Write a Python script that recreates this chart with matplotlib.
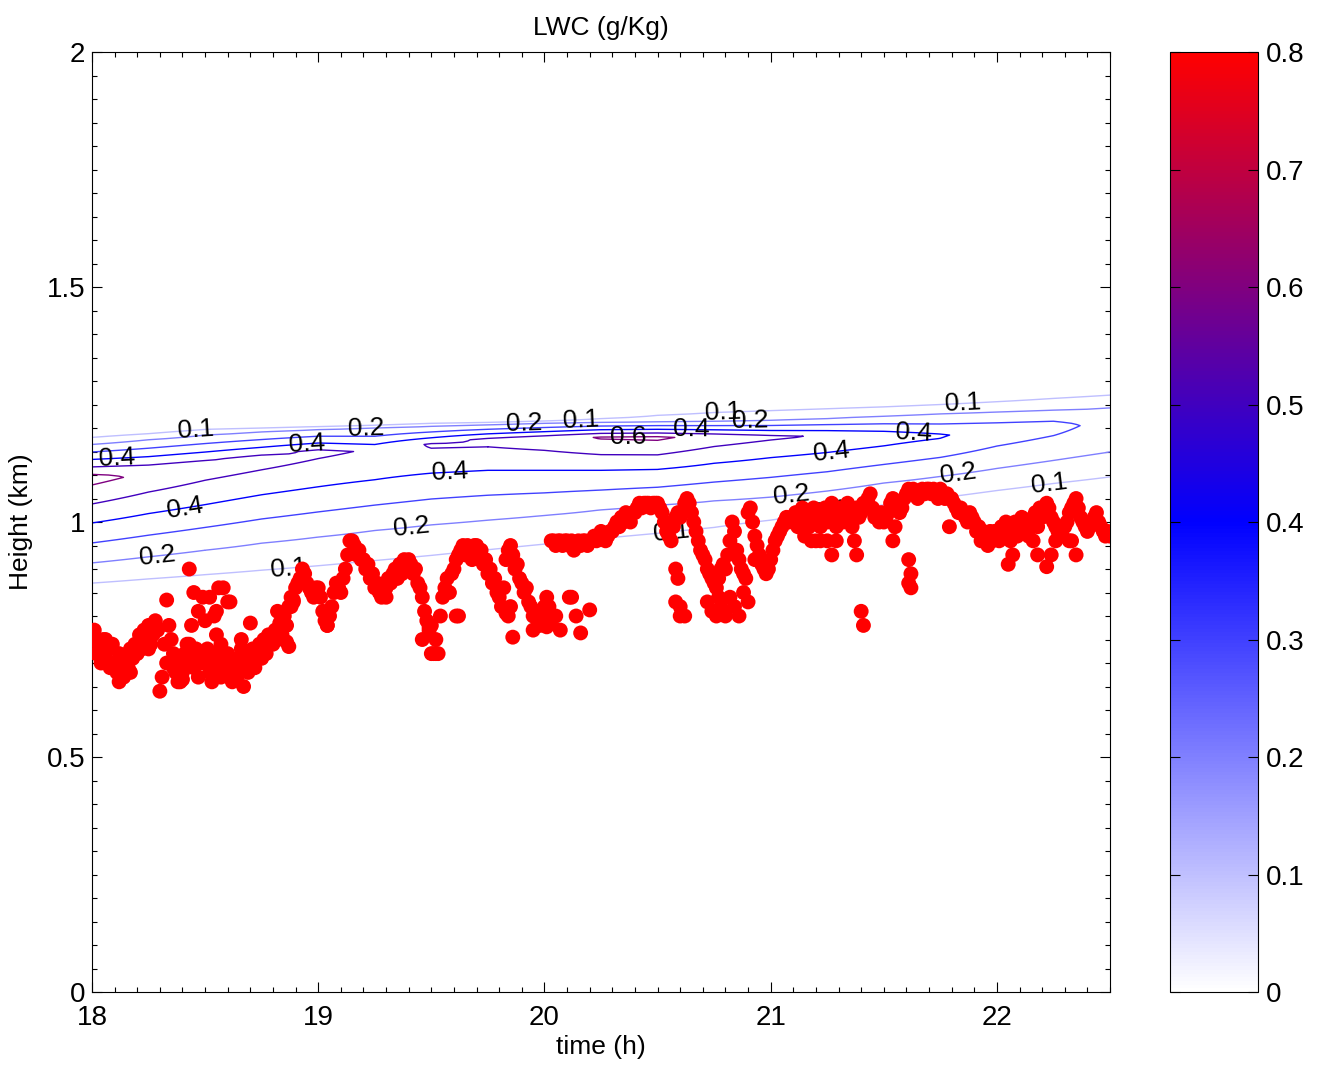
import numpy as np
import matplotlib
matplotlib.use("Agg")
import matplotlib.pyplot as plt
from matplotlib.colors import LinearSegmentedColormap, Normalize
from matplotlib.cm import ScalarMappable
from matplotlib.ticker import MultipleLocator

plt.rcParams['font.family'] = ['Liberation Sans', 'DejaVu Sans']

# ---------------------------------------------------------------
# LWC vertical profiles (g/kg), one per time column (h)
# knots: cloud base (0), rising 0.2 and 0.4, peak, falling 0.2, top (0)
# ---------------------------------------------------------------
prof_time = [18.0, 18.25, 18.5, 18.75, 19.0, 19.25, 19.5, 19.75, 20.0, 20.25,
             20.5, 20.75, 21.0, 21.25, 21.5, 21.75, 22.0, 22.25, 22.5]
base_h   = [0.827, 0.832, 0.836, 0.840, 0.846, 0.854, 0.864, 0.878, 0.892, 0.904,
            0.916, 0.932, 0.955, 0.975, 0.990, 1.005, 1.020, 1.033, 1.043]
rise02_h = [0.913, 0.926, 0.940, 0.955, 0.968, 0.982, 0.994, 1.004, 1.014, 1.026,
            1.036, 1.045, 1.053, 1.066, 1.083, 1.097, 1.114, 1.131, 1.149]
rise04_h = [0.998, 1.018, 1.037, 1.058, 1.075, 1.090, 1.104, 1.110, 1.110, 1.110,
            1.112, 1.125, 1.137, 1.148, 1.162, 1.178, np.nan, np.nan, np.nan]
peak_h   = [1.095, 1.105, 1.120, 1.135, 1.150, 1.150, 1.165, 1.175, 1.178, 1.180,
            1.180, 1.182, 1.182, 1.183, 1.185, 1.185, 1.195, 1.205, 1.210]
peak_lwc = [0.64, 0.59, 0.56, 0.545, 0.525, 0.485, 0.515, 0.53, 0.56, 0.61,
            0.62, 0.56, 0.52, 0.49, 0.45, 0.41, 0.37, 0.34, 0.26]
fall02_h = [1.165, 1.175, 1.185, 1.192, 1.197, 1.200, 1.204, 1.207, 1.210, 1.212,
            1.213, 1.214, 1.216, 1.220, 1.225, 1.230, 1.234, 1.238, 1.243]
top_h    = [1.195, 1.201, 1.209, 1.208, 1.209, 1.212, 1.216, 1.217, 1.220, 1.228,
            1.241, 1.252, 1.258, 1.262, 1.265, 1.270, 1.278, 1.288, 1.297]

# ---------------------------------------------------------------
# Cloud base from the ceilometer (km), main trace every 0.01 h
# ---------------------------------------------------------------
cb_start, cb_step = 18.0, 0.01
cb_main = [
    0.75, 0.77, 0.72, 0.74, 0.70, 0.75, 0.71, 0.73, 0.69, 0.74,   # 18.0
    0.70, 0.68, 0.66, 0.70, 0.67, 0.71, 0.69, 0.73, 0.71, 0.74,   # 18.1
    0.72, 0.76, 0.73, 0.77, 0.75, 0.78, 0.74, 0.76, 0.79, 0.77,   # 18.2
    0.64, 0.67, 0.74, 0.70, 0.78, 0.75, 0.72, 0.68, 0.70, 0.66,   # 18.3
    0.68, 0.72, 0.70, 0.74, 0.71, 0.69, 0.73, 0.67, 0.70, 0.72,   # 18.4
    0.70, 0.73, 0.68, 0.71, 0.67, 0.72, 0.69, 0.74, 0.68, 0.70,   # 18.5
    0.72, 0.68, 0.66, 0.70, 0.67, 0.71, 0.73, 0.69, 0.72, 0.68,   # 18.6
    0.70, 0.73, 0.69, 0.72, 0.74, 0.71, 0.75, 0.72, 0.76, 0.74,   # 18.7
    0.74, 0.77, 0.75, 0.78, 0.76, 0.80, 0.78, 0.82, 0.84, 0.83,   # 18.8
    0.86, 0.87, 0.88, 0.90, 0.89, 0.87, 0.86, 0.85, 0.84, 0.86,   # 18.9
    0.86, 0.84, 0.81, 0.79, 0.78, 0.80, 0.82, 0.85, 0.87, 0.86,   # 19.0
    0.85, 0.88, 0.90, 0.93, 0.96, 0.96, 0.95, 0.93, 0.94, 0.92,   # 19.1
    0.92, 0.90, 0.91, 0.88, 0.89, 0.86, 0.87, 0.85, 0.84, 0.86,   # 19.2
    0.86, 0.88, 0.87, 0.89, 0.90, 0.88, 0.91, 0.89, 0.92, 0.90,   # 19.3
    0.92, 0.91, 0.89, 0.90, 0.87, 0.86, 0.84, 0.81, 0.79, 0.77,   # 19.4
    0.72, 0.72, 0.72, 0.72, 0.80, 0.84, 0.86, 0.88, 0.85, 0.89,   # 19.5
    0.90, 0.92, 0.93, 0.94, 0.95, 0.93, 0.95, 0.94, 0.92, 0.95,   # 19.6
    0.95, 0.93, 0.94, 0.91, 0.92, 0.89, 0.90, 0.87, 0.88, 0.85,   # 19.7
    0.84, 0.82, 0.86, 0.92, 0.94, 0.95, 0.93, 0.90, 0.91, 0.88,   # 19.8
    0.87, 0.85, 0.86, 0.83, 0.82, 0.80, 0.81, 0.79, 0.78, 0.80,   # 19.9
    0.82, 0.84, 0.82, 0.96, 0.96, 0.95, 0.96, 0.96, 0.95, 0.96,   # 20.0
    0.96, 0.95, 0.96, 0.94, 0.95, 0.96, 0.95, 0.96, 0.96, 0.95,   # 20.1
    0.96, 0.96, 0.97, 0.96, 0.97, 0.98, 0.97, 0.96, 0.97, 0.98,   # 20.2
    0.98, 0.99, 1.00, 0.99, 1.01, 1.00, 1.02, 1.01, 1.00, 1.02,   # 20.3
    1.02, 1.03, 1.04, 1.03, 1.04, 1.04, 1.04, 1.03, 1.04, 1.04,   # 20.4
    1.04, 1.03, 1.02, 1.00, 0.98, 0.97, 0.96, 0.99, 1.01, 1.02,   # 20.5
    1.01, 1.02, 1.04, 1.05, 1.04, 1.02, 1.00, 0.98, 0.96, 0.94,   # 20.6
    0.93, 0.92, 0.90, 0.89, 0.88, 0.87, 0.86, 0.88, 0.90, 0.91,   # 20.7
    0.90, 0.93, 0.96, 1.00, 0.98, 0.94, 0.92, 0.90, 0.89, 0.88,   # 20.8
    1.02, 1.03, 1.00, 0.97, 0.95, 0.93, 0.91, 0.90, 0.89, 0.90,   # 20.9
    0.92, 0.94, 0.96, 0.97, 0.98, 0.99, 1.00, 1.01, 1.00, 1.01,   # 21.0
    1.00, 1.02, 0.99, 1.01, 1.03, 1.00, 1.02, 0.99, 1.01, 1.03,   # 21.1
    1.00, 1.02, 0.99, 1.01, 1.03, 1.00, 1.02, 1.04, 1.01, 0.99,   # 21.2
    1.01, 1.03, 1.00, 1.02, 1.04, 1.01, 0.99, 1.02, 1.03, 1.01,   # 21.3
    1.02, 1.04, 1.03, 1.05, 1.06, 1.03, 1.01, 1.02, 1.00, 1.02,   # 21.4
    1.00, 1.01, 1.02, 1.04, 1.05, 1.04, 1.03, 1.02, 1.03, 1.05,   # 21.5
    1.06, 1.07, 1.06, 1.07, 1.06, 1.05, 1.06, 1.07, 1.06, 1.07,   # 21.6
    1.07, 1.06, 1.07, 1.06, 1.05, 1.07, 1.06, 1.05, 1.06, 1.05,   # 21.7
    1.05, 1.04, 1.03, 1.02, 1.03, 1.02, 1.01, 1.00, 1.02, 1.01,   # 21.8
    1.00, 0.98, 0.99, 0.96, 0.98, 0.97, 0.95, 0.98, 0.96, 0.98,   # 21.9
    0.98, 0.96, 0.99, 0.97, 1.00, 0.98, 0.96, 0.99, 1.00, 0.97,   # 22.0
    0.99, 1.01, 0.98, 1.00, 0.97, 0.99, 1.01, 1.02, 0.99, 1.03,   # 22.1
    1.01, 1.02, 1.04, 1.03, 1.01, 1.00, 0.99, 0.98, 0.99, 0.97,   # 22.2
    0.99, 1.00, 1.02, 1.03, 1.04, 1.05, 1.03, 1.01, 1.00, 0.99,   # 22.3
    0.98, 0.99, 1.00, 1.01, 1.02, 1.00, 0.99, 0.98, 0.97, 0.98,   # 22.4
    0.97,                                                         # 22.5
]

# secondary (lower / upper) cloud-base detections
cb_extra_t = [18.02, 18.06, 18.12, 18.17, 18.25, 18.33, 18.36, 18.38, 18.40, 18.42,
              18.43, 18.45, 18.47, 18.49, 18.44, 18.47, 18.50, 18.52, 18.54, 18.55,
              18.56, 18.58, 18.60, 18.61, 18.53, 18.57, 18.55, 18.62, 18.66, 18.67,
              18.70, 18.82, 18.83, 18.86, 18.87, 18.89, 18.88, 19.04, 19.30, 19.46,
              19.49, 19.52, 19.50, 19.61, 19.62, 19.83, 19.86, 19.84, 19.85, 19.95,
              20.01, 20.05, 20.07, 20.03, 20.11, 20.12, 20.14, 20.16, 20.20, 20.58,
              20.59, 20.58, 20.60, 20.62, 20.60, 20.72, 20.74, 20.76, 20.78, 20.80,
              20.77, 20.82, 20.84, 20.86, 20.88, 20.90, 20.93, 21.18, 21.20, 21.22,
              21.15, 21.27, 21.25, 21.29, 21.37, 21.38, 21.40, 21.41, 21.54, 21.55,
              21.61, 21.62, 21.61, 21.62, 21.79, 22.05, 22.07, 22.18, 22.16, 22.22,
              22.24, 22.26, 22.32, 22.35, 22.33]
cb_extra_h = [0.72, 0.75, 0.72, 0.68, 0.73, 0.834, 0.69, 0.66, 0.665, 0.74,
              0.90, 0.85, 0.81, 0.84, 0.78, 0.70, 0.79, 0.84, 0.80, 0.81,
              0.86, 0.86, 0.83, 0.83, 0.66, 0.67, 0.76, 0.70, 0.75, 0.65,
              0.785, 0.81, 0.785, 0.745, 0.735, 0.834, 0.82, 0.78, 0.84, 0.75,
              0.777, 0.75, 0.78, 0.80, 0.80, 0.806, 0.755, 0.80, 0.82, 0.77,
              0.777, 0.80, 0.77, 0.79, 0.84, 0.84, 0.80, 0.764, 0.813, 0.90,
              0.88, 0.83, 0.82, 0.80, 0.80, 0.83, 0.81, 0.80, 0.82, 0.80,
              0.84, 0.84, 0.82, 0.80, 0.85, 0.83, 0.92, 0.96, 0.96, 0.96,
              0.97, 0.93, 0.96, 0.96, 0.96, 0.93, 0.81, 0.78, 0.96, 0.99,
              0.92, 0.89, 0.87, 0.86, 0.99, 0.91, 0.93, 0.93, 0.96, 0.905,
              0.93, 0.96, 0.96, 0.93, 0.96]

labelled_levels = [0.1, 0.2, 0.4, 0.6]
plain_levels = [0.3, 0.5, 0.7]
cbar_ticks = [0.0, 0.1, 0.2, 0.3, 0.4, 0.5, 0.6, 0.7, 0.8]
cbar_ticklabels = ['0', '0.1', '0.2', '0.3', '0.4', '0.5', '0.6', '0.7', '0.8']

# where the contour labels sit (time, height)
label_spots = [(18.11, 1.143), (18.46, 1.196), (18.95, 1.179), (19.21, 1.200),
               (18.41, 1.030), (18.29, 0.928), (18.87, 0.900), (19.58, 1.109),
               (19.41, 0.991), (19.91, 1.209), (20.16, 1.217), (20.37, 1.179),
               (20.65, 1.194), (20.79, 1.234), (20.91, 1.215), (21.27, 1.149),
               (21.63, 1.181), (21.85, 1.251), (21.83, 1.102), (22.23, 1.081),
               (21.09, 1.057), (20.56, 0.979), (21.26, 1.036)]

# ---------------------------------------------------------------
# gridded LWC field
# ---------------------------------------------------------------
heights = np.arange(0.0, 2.0001, 0.0025)
lwc = np.zeros((heights.size, len(prof_time)))
for j in range(len(prof_time)):
    knots_h = [base_h[j], rise02_h[j]]
    knots_v = [0.0, 0.2]
    if not np.isnan(rise04_h[j]):
        knots_h.append(rise04_h[j])
        knots_v.append(0.4)
    knots_h += [peak_h[j], fall02_h[j], top_h[j]]
    knots_v += [peak_lwc[j], 0.2, 0.0]
    lwc[:, j] = np.interp(heights, knots_h, knots_v, left=0.0, right=0.0)

cmap = LinearSegmentedColormap.from_list(
    'white_blue_red', [(0.0, (1, 1, 1)), (0.5, (0, 0, 1)), (1.0, (1, 0, 0))], N=256)
norm = Normalize(vmin=0.0, vmax=0.8)

# ---------------------------------------------------------------
# figure
# ---------------------------------------------------------------
fig = plt.figure(figsize=(13.18, 10.66), dpi=100)
ax = fig.add_axes([0.0698, 0.0694, 0.7724, 0.8818])
cax = fig.add_axes([0.8877, 0.0694, 0.0668, 0.8818])

ax.contour(prof_time, heights, lwc, levels=plain_levels,
           cmap=cmap, norm=norm, linewidths=1.0, zorder=2)
cs = ax.contour(prof_time, heights, lwc, levels=labelled_levels,
                cmap=cmap, norm=norm, linewidths=1.0, zorder=2)
ax.clabel(cs, inline=False, fontsize=19, colors='k',
          fmt=lambda v: f'{v:g}', manual=label_spots, zorder=3)

cb_time = cb_start + cb_step * np.arange(len(cb_main))
ax.scatter(cb_time, cb_main, s=115, c='#ff0000', edgecolors='none', zorder=4)
ax.scatter(cb_extra_t, cb_extra_h, s=115, c='#ff0000', edgecolors='none', zorder=4)

ax.set_xlim(18, 22.5)
ax.set_ylim(0, 2)
ax.xaxis.set_major_locator(MultipleLocator(1))
ax.xaxis.set_minor_locator(MultipleLocator(0.1))
ax.yaxis.set_major_locator(MultipleLocator(0.5))
ax.yaxis.set_minor_locator(MultipleLocator(0.05))
ax.yaxis.set_major_formatter(plt.FuncFormatter(lambda v, p: f'{v:g}'))
ax.tick_params(which='both', direction='in', top=True, right=True, width=0.8)
ax.tick_params(which='major', length=7)
ax.tick_params(which='minor', length=3.5)
ax.tick_params(axis='x', labelsize=20, pad=9)
ax.tick_params(axis='y', labelsize=20, pad=5)
for sp in ax.spines.values():
    sp.set_linewidth(0.8)

ax.set_title('LWC (g/Kg)', fontsize=19, pad=12)
ax.set_xlabel('time (h)', fontsize=19, labelpad=3)
ax.set_ylabel('Height (km)', fontsize=19, labelpad=10)

sm = ScalarMappable(norm=norm, cmap=cmap)
cb = fig.colorbar(sm, cax=cax)
cb.set_ticks(cbar_ticks)
cb.set_ticklabels(cbar_ticklabels)
cb.outline.set_linewidth(0.8)
cax.tick_params(direction='in', length=7, width=0.8, left=True, right=True,
                labelsize=20, pad=6)

fig.savefig('out.png', dpi=100)
